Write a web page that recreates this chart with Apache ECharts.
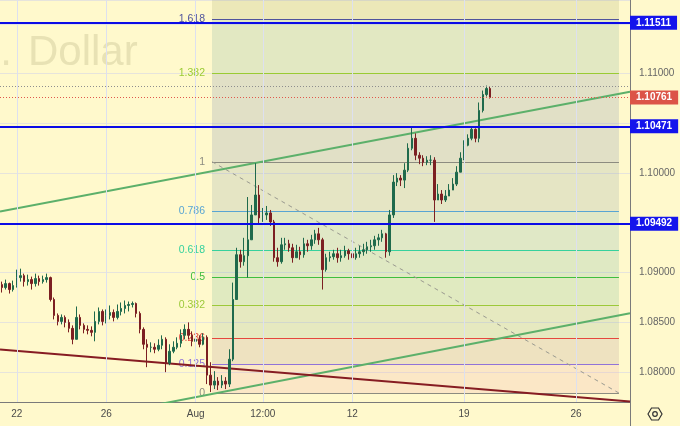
<!DOCTYPE html>
<html>
<head>
<meta charset="utf-8">
<script src="https://cdn.jsdelivr.net/npm/echarts/dist/echarts.min.js"></script>
<style>
html,body{margin:0;padding:0;background:#FFF9CC;}
#chart{width:680px;height:426px;}
</style>
</head>
<body>
<div id="chart"></div>
<script>
// ================= DATA =================
// 4-hour bars, weekends skipped, first bar 2024-07-19 08:00 (UTC)
const barCount = 169;   // visible slots incl. future space
const categories = [];
(function () {
  let t = Date.UTC(2024, 6, 19, 8);
  const pad = n => (n < 10 ? '0' : '') + n;
  while (categories.length < barCount) {
    const d = new Date(t);
    const wd = d.getUTCDay();
    if (wd !== 0 && wd !== 6) {
      categories.push(d.getUTCFullYear() + '-' + pad(d.getUTCMonth() + 1) + '-' + pad(d.getUTCDate()) + ' ' + pad(d.getUTCHours()) + ':00');
    }
    t += 4 * 3600 * 1000;
  }
})();

// time-axis labels shown (category -> text)
const xTickLabels = {
  '2024-07-22 00:00': '22',
  '2024-07-26 00:00': '26',
  '2024-08-01 00:00': 'Aug',
  '2024-08-06 00:00': '12:00',
  '2024-08-12 00:00': '12',
  '2024-08-19 00:00': '19',
  '2024-08-26 00:00': '26'
};

const firstOpen = 1.0888;
const closes = [
  1.0885,1.0889,1.0883,1.0887,1.0895,1.0897,1.0891,1.0893,1.0889,1.0894,
  1.0891,1.0893,1.0895,1.0873,1.0857,1.0851,1.0855,1.0850,1.0844,1.0833,
  1.0855,1.0847,1.0843,1.0842,1.0840,1.0851,1.0861,1.0851,1.0857,1.0860,
  1.0855,1.0861,1.0864,1.0867,1.0868,1.0869,1.0859,1.0843,1.0828,1.0825,
  1.0825,1.0823,1.0827,1.0833,1.0809,1.0821,1.0825,1.0829,1.0837,1.0843,
  1.0837,1.0831,1.0833,1.0828,1.0835,1.0797,1.0787,1.0791,1.0787,1.0791,
  1.0788,1.0813,1.0873,1.0918,1.0911,1.0917,1.0933,1.0958,1.0978,1.0955,
  1.0958,1.0960,1.0951,1.0915,1.0911,1.0928,1.0929,1.0925,1.0915,1.0921,
  1.0918,1.0929,1.0927,1.0933,1.0939,1.0933,1.0903,1.0915,1.0916,1.0919,
  1.0915,1.0917,1.0922,1.0919,1.0915,1.0919,1.0921,1.0923,1.0926,1.0927,
  1.0933,1.0935,1.0939,1.0921,1.0958,1.0991,1.0995,1.0993,1.1003,1.1025,
  1.1035,1.1018,1.1015,1.1011,1.1013,1.1013,1.0973,1.0979,1.0973,1.0977,
  1.0983,1.0989,1.1001,1.1015,1.1028,1.1035,1.1044,1.1035,1.1063,1.1079,
  1.1085,1.10761
];
const highs = [
  1.0891,1.0893,1.0890,1.0892,1.0903,1.0904,1.0899,1.0898,1.0896,1.0899,
  1.0897,1.0897,1.0899,1.0896,1.0875,1.0859,1.0858,1.0857,1.0853,1.0847,
  1.0866,1.0858,1.0849,1.0847,1.0846,1.0861,1.0865,1.0863,1.0863,1.0867,
  1.0863,1.0868,1.0870,1.0872,1.0871,1.0871,1.0870,1.0861,1.0845,1.0833,
  1.0830,1.0829,1.0833,1.0837,1.0835,1.0828,1.0831,1.0835,1.0843,1.0848,
  1.0850,1.0841,1.0840,1.0837,1.0839,1.0837,1.0810,1.0801,1.0795,1.0797,
  1.0795,1.0823,1.0890,1.0925,1.0923,1.0935,1.0976,1.0968,1.1010,1.0988,
  1.0965,1.0967,1.0963,1.0953,1.0925,1.0935,1.0935,1.0933,1.0929,1.0928,
  1.0926,1.0935,1.0933,1.0938,1.0943,1.0945,1.0935,1.0919,1.0921,1.0923,
  1.0925,1.0923,1.0927,1.0924,1.0923,1.0925,1.0927,1.0929,1.0931,1.0933,
  1.0937,1.0939,1.0943,1.0940,1.0963,1.0998,1.1000,1.0998,1.1010,1.1030,
  1.1046,1.1040,1.1021,1.1018,1.1017,1.1018,1.1016,1.0989,1.0983,1.0983,
  1.0989,1.0995,1.1007,1.1021,1.1033,1.1039,1.1047,1.1045,1.1071,1.1083,
  1.1088,1.1087
];
const lows = [
  1.0880,1.0883,1.0879,1.0881,1.0885,1.0891,1.0886,1.0887,1.0883,1.0886,
  1.0887,1.0889,1.0890,1.0871,1.0853,1.0847,1.0848,1.0845,1.0840,1.0828,
  1.0835,1.0843,1.0839,1.0838,1.0836,1.0831,1.0848,1.0847,1.0849,1.0853,
  1.0851,1.0853,1.0857,1.0859,1.0861,1.0865,1.0855,1.0839,1.0823,1.0805,
  1.0820,1.0819,1.0821,1.0823,1.0800,1.0807,1.0819,1.0823,1.0825,1.0833,
  1.0833,1.0826,1.0827,1.0825,1.0827,1.0788,1.0780,1.0783,1.0782,1.0784,
  1.0783,1.0785,1.0811,1.0873,1.0905,1.0907,1.0895,1.0941,1.0958,1.0949,
  1.0951,1.0953,1.0947,1.0911,1.0906,1.0909,1.0923,1.0921,1.0910,1.0915,
  1.0913,1.0915,1.0921,1.0923,1.0929,1.0928,1.0883,1.0901,1.0911,1.0913,
  1.0910,1.0911,1.0915,1.0913,1.0911,1.0913,1.0915,1.0917,1.0919,1.0921,
  1.0923,1.0927,1.0931,1.0915,1.0917,1.0955,1.0987,1.0987,1.0985,1.1001,
  1.1023,1.1013,1.1009,1.1007,1.1008,1.1008,1.0951,1.0973,1.0969,1.0971,
  1.0977,1.0983,1.0987,1.1003,1.1013,1.1027,1.1033,1.1031,1.1031,1.1061,
  1.1077,1.1075
];

// horizontal levels
const levelLines = [1.11511, 1.10471, 1.09492];
const lastPrice = 1.10761;
const highLine = 1.1087;

// price axis
const priceMin = 1.0770, priceMax = 1.1174;
const hiddenPriceLabels = [1.095, 1.105, 1.115];

// Fibonacci retracement (anchors in bar-index units)
const fibStart = 56.37, fibEnd = 165.54;
const fibPrice0 = 1.0779, fibPrice1 = 1.10115;
const fibLevels = [0, 0.125, 0.236, 0.382, 0.5, 0.618, 0.786, 1, 1.382, 1.618, 2.618];

// trend lines [barIndex, price]
const upperChannel = [[-0.5, 1.09614], [168.5, 1.10819]];
const lowerChannel = [[40, 1.07662], [168.5, 1.08591]];
const maroonLine = [[-0.5, 1.08227], [168.5, 1.07705]];
const fibDiagonal = [[fibStart, fibPrice1], [fibEnd, fibPrice0]];

// watermark text (symbol description, cut by the left edge)
const watermarkHead = 'Euro / U.S.';
const watermarkTail = 'Dollar';

// ================= STYLES =================
const FONT = '"Liberation Sans", Arial, sans-serif';
const fibLineColors = ['#8C8C80','#9173D8','#E5473D','#9CC93A','#3FBE3F','#36D19D','#58A5D3','#8C8C80','#9ACB34','#50539C','#50539C'];
const fibBandColors = [
  'rgba(235,169,179,0.22)','rgba(170,134,144,0.2)','rgba(130,169,144,0.2)',
  'rgba(100,174,144,0.2)','rgba(95,169,159,0.2)','rgba(100,164,174,0.2)',
  'rgba(125,149,164,0.2)','rgba(105,124,174,0.2)','rgba(110,164,154,0.2)',
  'rgba(160,164,104,0.2)'
];

// ================= BUILD =================
const candles = closes.map((c, i) => {
  const o = i === 0 ? firstOpen : closes[i - 1];
  return [o, c, Math.min(lows[i], o, c), Math.max(highs[i], o, c)];
});
const fibPrice = l => fibPrice0 + l * (fibPrice1 - fibPrice0);

const chart = echarts.init(document.getElementById('chart'), null, {renderer: 'canvas'});

const blueLabel = {
  show: true, position: 'end', distance: 0,
  formatter: p => Number(p.value).toFixed(5),
  color: '#ffffff', backgroundColor: '#1414EC', fontWeight: 'bold',
  fontSize: 10, fontFamily: FONT, padding: [2, 6, 1, 6], lineHeight: 11
};

const option = {
  animation: false,
  backgroundColor: '#FFF9CC',
  grid: {left: 0, right: 50, top: 0, bottom: 24, containLabel: false},
  xAxis: [
    {
      type: 'category', data: categories, boundaryGap: true,
      axisLine: {show: true, onZero: false, lineStyle: {color: '#7A7A7A', width: 1}},
      axisTick: {show: false},
      axisLabel: {
        interval: (idx, val) => xTickLabels[val] !== undefined,
        formatter: val => xTickLabels[val] || '',
        color: '#4A4A4A', fontSize: 10, fontFamily: FONT, margin: 7
      },
      splitLine: {show: false}
    },
    {type: 'value', min: -0.5, max: 168.5, show: false}
  ],
  yAxis: {
    type: 'value', position: 'right', min: priceMin, max: priceMax, splitNumber: 8, scale: true,
    axisLine: {show: true, onZero: false, lineStyle: {color: '#7A7A7A', width: 1}},
    axisTick: {show: false},
    axisLabel: {
      showMinLabel: false, showMaxLabel: false,
      formatter: v => {
        if (Math.abs(Math.round(v * 200) / 200 - v) > 1e-7) return '';
        for (const h of hiddenPriceLabels) if (Math.abs(v - h) < 1e-7) return '';
        return v.toFixed(5);
      },
      color: '#666666', fontSize: 10, fontFamily: FONT, margin: 9
    },
    splitLine: {show: true, lineStyle: {color: '#E6E4DC', width: 1}}
  },
  graphic: [
    {type: 'text', z: 0, silent: true,
     style: {text: watermarkHead, x: 12, y: 53, align: 'right', verticalAlign: 'middle',
             font: '42px ' + FONT, fill: '#E8E2B4'}},
    {type: 'text', z: 0, silent: true,
     style: {text: watermarkTail, x: 28, y: 53, align: 'left', verticalAlign: 'middle',
             font: '42px ' + FONT, fill: '#E8E2B4'}},
    {type: 'line', z: 10, silent: true, shape: {x1: 630.5, y1: 402, x2: 630.5, y2: 426},
     style: {stroke: '#7A7A7A', lineWidth: 1}},
    {type: 'polygon', z: 10, silent: true,
     shape: {points: [[648, 414], [651.5, 408], [658.5, 408], [662, 414], [658.5, 420], [651.5, 420]]},
     style: {fill: 'none', stroke: '#333333', lineWidth: 1.2}},
    {type: 'circle', z: 10, silent: true, shape: {cx: 655, cy: 414, r: 2.3},
     style: {fill: 'none', stroke: '#333333', lineWidth: 1.2}}
  ],
  series: [
    {
      // vertical time grid lines at the labelled categories
      type: 'line', xAxisIndex: 0, yAxisIndex: 0, data: [], z: 0, silent: true,
      markLine: {
        symbol: ['none', 'none'], silent: true, animation: false,
        label: {show: false},
        lineStyle: {color: '#DDE0EF', width: 1, type: 'solid'},
        data: Object.keys(xTickLabels).map(k => ({xAxis: k}))
      }
    },
    {
      type: 'custom', name: 'fib', xAxisIndex: 1, yAxisIndex: 0, z: 1, silent: true,
      data: fibLevels.map(l => [fibStart, fibPrice(l)]),
      renderItem: function (params, api) {
        const i = params.dataIndex;
        const cs = params.coordSys;
        const p = fibPrice(fibLevels[i]);
        const a = api.coord([fibStart, p]);
        const b = api.coord([fibEnd, p]);
        const children = [];
        if (i < fibLevels.length - 1) {
          const c = api.coord([fibStart, fibPrice(fibLevels[i + 1])]);
          const rect = echarts.graphic.clipRectByRect(
            {x: a[0], y: c[1], width: b[0] - a[0], height: a[1] - c[1]},
            {x: cs.x, y: cs.y, width: cs.width, height: cs.height});
          if (rect) children.push({type: 'rect', shape: rect, style: {fill: fibBandColors[i]}});
        }
        if (a[1] >= cs.y && a[1] <= cs.y + cs.height) {
          const y = Math.round(a[1]) + 0.5;
          children.push({type: 'line', shape: {x1: a[0], y1: y, x2: b[0], y2: y},
                         style: {stroke: fibLineColors[i], lineWidth: 1}});
          children.push({type: 'text', style: {text: String(fibLevels[i]), x: a[0] - 7, y: a[1],
                         align: 'right', verticalAlign: 'middle', fill: fibLineColors[i],
                         font: '10.5px ' + FONT}});
        }
        return {type: 'group', children: children};
      }
    },
    {type: 'line', xAxisIndex: 1, data: fibDiagonal, symbol: 'none', silent: true, z: 2, clip: true,
     lineStyle: {color: '#9A9A90', width: 1, type: [4, 4]}},
    {type: 'line', xAxisIndex: 1, data: upperChannel, symbol: 'none', silent: true, z: 3, clip: true,
     lineStyle: {color: '#5CB06A', width: 2}},
    {type: 'line', xAxisIndex: 1, data: lowerChannel, symbol: 'none', silent: true, z: 3, clip: true,
     lineStyle: {color: '#5CB06A', width: 2}},
    {type: 'line', xAxisIndex: 1, data: maroonLine, symbol: 'none', silent: true, z: 3, clip: true,
     lineStyle: {color: '#861C22', width: 2}},
    {
      type: 'candlestick', xAxisIndex: 0, yAxisIndex: 0, data: candles, barWidth: 2, z: 4, silent: true,
      itemStyle: {color: '#1F6A4C', color0: '#7C1F22', borderColor: '#1F6A4C', borderColor0: '#7C1F22', borderWidth: 1}
    },
    {
      type: 'line', xAxisIndex: 0, yAxisIndex: 0, data: [], z: 6, silent: true,
      markLine: {
        symbol: ['none', 'none'], silent: true, animation: false, precision: 5,
        data: [
          ...levelLines.map(v => ({yAxis: v, lineStyle: {color: '#0B0BE6', width: 2, type: 'solid'}, label: blueLabel})),
          {yAxis: highLine, lineStyle: {color: '#8E8E8E', width: 1, type: [1, 2]}, label: {show: false}},
          {yAxis: lastPrice, lineStyle: {color: '#E0584C', width: 1, type: [1, 2]},
           label: Object.assign({}, blueLabel, {backgroundColor: '#DC5448'})}
        ]
      }
    }
  ]
};
chart.setOption(option);
</script>
</body>
</html>
